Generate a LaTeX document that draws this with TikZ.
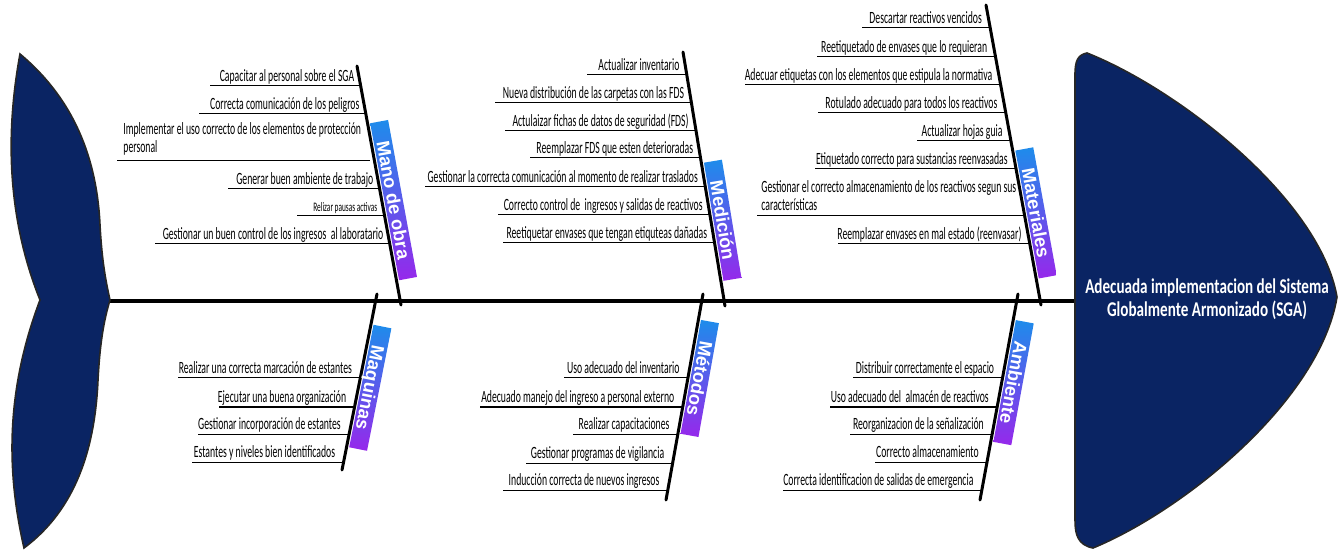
\documentclass[tikz,border=0pt]{standalone}
\usepackage{fontspec}
\setmainfont{Carlito}
\newfontfamily\causefont[FakeStretch=0.565]{Carlito}
\newfontfamily\headfont[FakeStretch=0.72]{Carlito}
\newfontfamily\catfont{Liberation Sans}
\usepackage{tikz}

\definecolor{fishnavy}{RGB}{10,36,99}
\definecolor{catblue}{RGB}{30,140,235}
\definecolor{catviolet}{RGB}{150,40,235}

\tikzset{
  spine/.style={line width=2.2pt, black},
  bone/.style={line width=1.5pt, black, line cap=round},
  subline/.style={line width=0.5pt, black},
  cause/.style={font=\causefont\fontsize{8.6}{9}\selectfont, inner sep=0pt, anchor=base east},
  catlabel/.style={font=\catfont\bfseries\fontsize{9.2}{10}\selectfont, text=white,
    top color=catblue, bottom color=catviolet, inner xsep=10pt, inner ysep=1pt,
    outer ysep=1.3pt, text height=6.8pt, text depth=0.3pt,
    sloped, allow upside down, anchor=south},
  fishpart/.style={fill=fishnavy, draw=black!85, line width=0.8pt}
}

\begin{document}
\begin{tikzpicture}[x=0.5pt, y=-0.5pt]

\useasboundingbox (0,0) rectangle (1343,550);

% ============================
% SPINE, TAIL AND HEAD
% ============================

\coordinate (tailR) at (110,301);
\coordinate (headL) at (1075,301);
\draw[spine] (tailR) -- (headL);

% Tail
\path[fishpart] (20,54) .. controls (75,100) and (97,160) .. (100,225)
  .. controls (102,262) and (106,282) .. (110,300)
  .. controls (104,320) and (100,342) .. (98,380)
  .. controls (95,450) and (75,510) .. (24,548)
  .. controls (6,470) and (6,390) .. (40,300)
  .. controls (6,215) and (6,130) .. (20,54) -- cycle;

% Head
\path[fishpart] (1087,53) .. controls (1180,90) and (1320,200) .. (1337,297)
  .. controls (1320,400) and (1185,510) .. (1093,548)
  .. controls (1078,545) and (1075,535) .. (1075,520)
  -- (1075,75) .. controls (1075,60) and (1078,55) .. (1087,53) -- cycle;
\node[font=\headfont\bfseries\fontsize{10.5}{11.7}\selectfont, text=white, align=center]
  (effect) at (1207,299) {Adecuada implementacion del Sistema\\Globalmente Armonizado (SGA)};

% ============================
% BONES
% ============================

\coordinate (MOt) at (357,66);  \coordinate (MOb) at (401,305);
\coordinate (MEt) at (683,52);  \coordinate (MEb) at (725,306);
\coordinate (MAt) at (986,5);   \coordinate (MAb) at (1041,305);
\coordinate (MQt) at (377,294); \coordinate (MQb) at (342,470);
\coordinate (MTt) at (703,294); \coordinate (MTb) at (666,500);
\coordinate (AMt) at (1018,294); \coordinate (AMb) at (980,500);

\draw[bone] (MOt) -- (MOb) node[catlabel, pos=0.57] (MO) {Mano de obra};
\draw[bone] (MEt) -- (MEb) node[catlabel, pos=0.67] (ME) {Medición};
\draw[bone] (MAt) -- (MAb) node[catlabel, pos=0.70] (MA) {Materiales};
\draw[bone] (MQt) -- (MQb) node[catlabel, pos=0.52] (MQ) {Maquinas};
\draw[bone] (MTt) -- (MTb) node[catlabel, pos=0.40] (MT) {Métodos};
\draw[bone] (AMt) -- (AMb) node[catlabel, pos=0.42] (AM) {Ambiente};

% ============================
% MANO DE OBRA
% ============================

\foreach \y/\xs/\txt [count=\i] in {
  86/210/{Capacitar al personal sobre el SGA},
  114/199/{Correcta comunicación de los peligros},
  189/228/{Generar buen ambiente de trabajo},
  244/155/{Gestionar un buen control de los ingresos~ al laboratario}} {
  \pgfmathsetmacro{\bx}{357+44*(\y-66)/239}
  \draw[subline] (\xs,\y) -- (\bx,\y);
  \node[cause] (mo\i) at (\bx-6,\y-4.5) {\txt};
}
\draw[subline] (117,161) -- (369.8,161);
\node[cause, anchor=south west, align=left] (mo5) at (123,156)
  {Implementar el uso correcto de los elementos de protección\\personal};
\draw[subline] (297,216) -- (384.6,216);
\node[cause, font=\causefont\fontsize{6.5}{7}\selectfont] (mo6) at (377.6,211.5) {Relizar pausas activas};

% ============================
% MEDICION
% ============================

\foreach \y/\xs/\txt [count=\i] in {
  75/587/{Actualizar inventario},
  103/495/{Nueva distribución de las carpetas con las FDS},
  131/505/{Actulaizar fichas de datos de seguridad (FDS)},
  158/530/{Reemplazar FDS que esten deterioradas},
  187/425/{Gestionar la correcta comunicación al momento de realizar traslados},
  215/498/{Correcto control de~ ingresos y salidas de reactivos},
  243/503/{Reetiquetar envases que tengan etiquteas dañadas}} {
  \pgfmathsetmacro{\bx}{683+42*(\y-52)/254}
  \draw[subline] (\xs,\y) -- (\bx,\y);
  \node[cause] (me\i) at (\bx-7,\y-4.5) {\txt};
}

% ============================
% MATERIALES
% ============================

\foreach \y/\xs/\txt [count=\i] in {
  28/862/{Descartar reactivos vencidos},
  57/817/{Reetiquetado de envases que lo requieran},
  85/745/{Adecuar etiquetas con los elementos que estipula la normativa},
  113/818/{Rotulado adecuado para todos los reactivos},
  141/917/{Actualizar hojas guia},
  169/815/{Etiquetado correcto para sustancias reenvasadas},
  244/838/{Reemplazar envases en mal estado (reenvasar)}} {
  \pgfmathsetmacro{\bx}{986+55*(\y-5)/300}
  \draw[subline] (\xs,\y) -- (\bx,\y);
  \node[cause] (ma\i) at (\bx-8,\y-4.5) {\txt};
}
\draw[subline] (757,216) -- (1024.7,216);
\node[cause, anchor=south west, align=left] (ma8) at (761,211)
  {Gestionar el correcto almacenamiento de los reactivos segun sus\\características};

% ============================
% MAQUINAS
% ============================

\foreach \y/\xs/\txt [count=\i] in {
  378/178/{Realizar una correcta marcación de estantes},
  407/219/{Ejecutar una buena organización},
  434/198/{Gestionar incorporación de estantes},
  462/192/{Estantes y niveles bien identificados}} {
  \pgfmathsetmacro{\bx}{377-35*(\y-294)/176}
  \draw[subline] (\xs,\y) -- (\bx,\y);
  \node[cause] (mq\i) at (\bx-8,\y-4.5) {\txt};
}

% ============================
% METODOS
% ============================

\foreach \y/\xs/\txt [count=\i] in {
  378/564/{Uso adecuado del inventario},
  407/480/{Adecuado manejo del ingreso a personal externo},
  434/573/{Realizar capacitaciones},
  463/526/{Gestionar programas de vigilancia},
  490/503/{Inducción correcta de nuevos ingresos}} {
  \pgfmathsetmacro{\bx}{703-37*(\y-294)/206}
  \draw[subline] (\xs,\y) -- (\bx,\y);
  \node[cause] (mt\i) at (\bx-8,\y-4.5) {\txt};
}

% ============================
% AMBIENTE
% ============================

\foreach \y/\xs/\txt [count=\i] in {
  378/853/{Distribuir correctamente el espacio},
  407/830/{Uso adecuado del~ almacén de reactivos},
  434/850/{Reorganizacion de la señalización},
  462/875/{Correcto almacenamiento},
  490/783/{Correcta identificacion de salidas de emergencia}} {
  \pgfmathsetmacro{\bx}{1018-38*(\y-294)/206}
  \draw[subline] (\xs,\y) -- (\bx,\y);
  \node[cause] (am\i) at (\bx-8,\y-4.5) {\txt};
}

\end{tikzpicture}
\end{document}
